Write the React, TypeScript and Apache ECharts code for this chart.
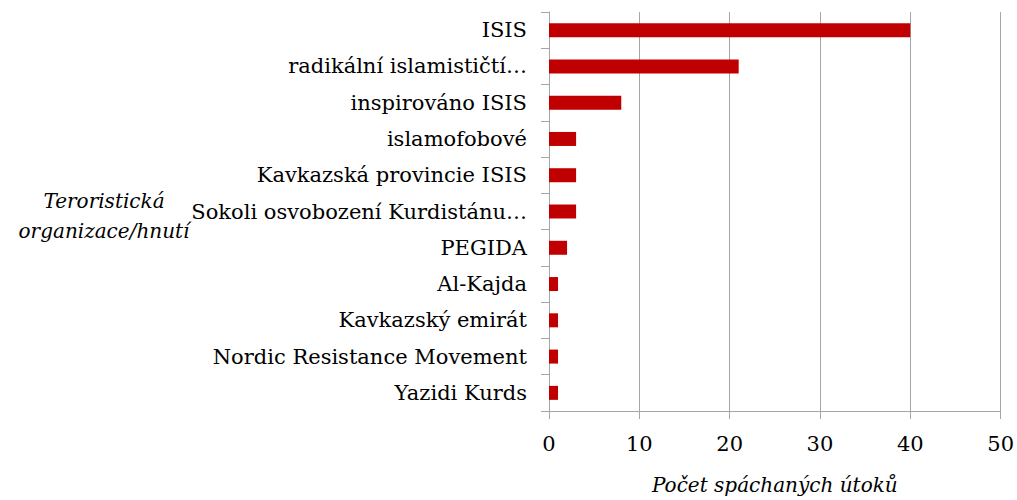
import React, { useEffect, useRef } from "react";
import * as echarts from "echarts";

const categories = [
  "ISIS",
  "radikální islamističtí…",
  "inspirováno ISIS",
  "islamofobové",
  "Kavkazská provincie ISIS",
  "Sokoli osvobození Kurdistánu…",
  "PEGIDA",
  "Al-Kajda",
  "Kavkazský emirát",
  "Nordic Resistance Movement",
  "Yazidi Kurds",
];
const attacks = [40, 21, 8, 3, 3, 3, 2, 1, 1, 1, 1];
const xAxisTitle = "Počet spáchaných útoků";
const yAxisTitle = "Teroristická\norganizace/hnutí";

const FONT = "DejaVu Serif";

export default function App() {
  const ref = useRef<HTMLDivElement>(null);
  useEffect(() => {
    const chart = echarts.init(ref.current!, null, { renderer: "svg" });
    chart.setOption({
      animation: false,
      backgroundColor: "#ffffff",
      grid: { left: 549, right: 16, top: 12, bottom: 85, containLabel: false },
      xAxis: {
        type: "value",
        min: 0,
        max: 50,
        interval: 10,
        name: xAxisTitle,
        nameLocation: "middle",
        nameGap: 64,
        nameTextStyle: { fontFamily: FONT, fontSize: 20, fontStyle: "italic", color: "#000" },
        axisLine: { show: true, lineStyle: { color: "#a6a6a6", width: 1 } },
        axisTick: { show: true, length: 8, lineStyle: { color: "#a6a6a6" } },
        splitLine: { show: true, lineStyle: { color: "#a6a6a6", width: 1 } },
        axisLabel: { fontFamily: FONT, fontSize: 21, color: "#000", margin: 22 },
      },
      yAxis: {
        type: "category",
        data: categories,
        inverse: true,
        axisLine: { show: true, lineStyle: { color: "#a6a6a6", width: 1 } },
        axisTick: { show: true, length: 8, alignWithLabel: false, lineStyle: { color: "#a6a6a6" } },
        axisLabel: { fontFamily: FONT, fontSize: 21, color: "#000", margin: 22 },
        splitLine: { show: false },
      },
      graphic: [
        {
          type: "text",
          x: 104,
          y: 186,
          style: {
            text: yAxisTitle,
            fontFamily: FONT,
            fontSize: 20,
            fontStyle: "italic",
            fill: "#000",
            align: "center",
            verticalAlign: "top",
            lineHeight: 30,
          },
        },
      ],
      series: [
        {
          type: "bar",
          data: attacks,
          barWidth: 14,
          itemStyle: { color: "#c00000" },
        },
      ],
    });
    return () => chart.dispose();
  }, []);
  return (
    <div
      ref={ref}
      style={{ position: "fixed", left: 0, top: 0, width: 1017, height: 500 }}
    />
  );
}
